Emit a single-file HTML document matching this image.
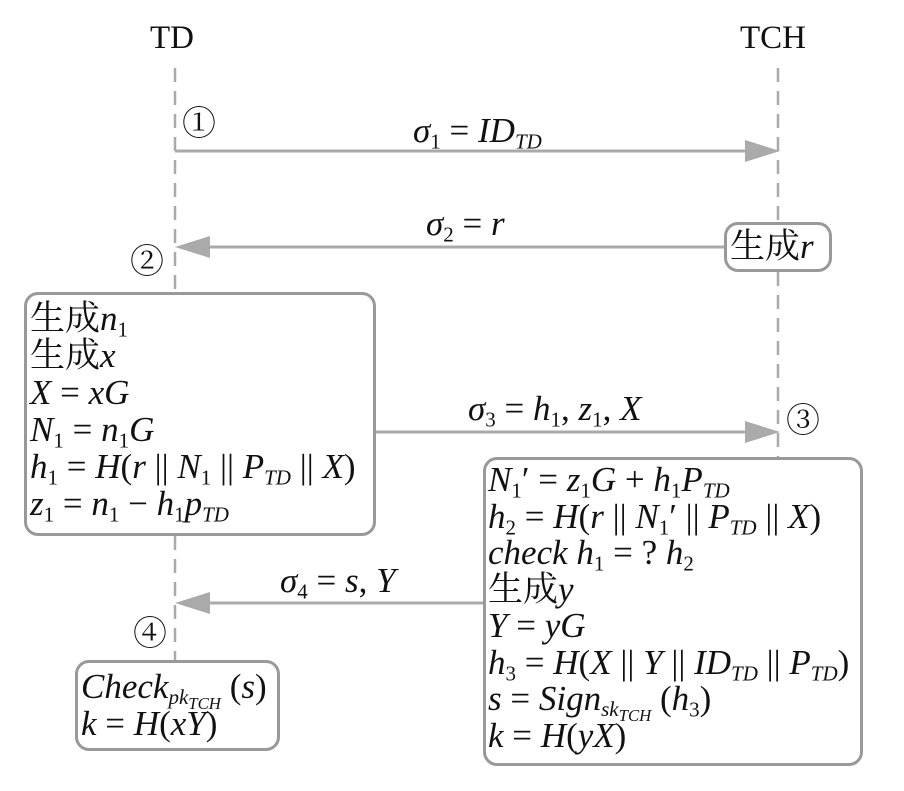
<!DOCTYPE html>
<html><head><meta charset="utf-8"><style>
body{margin:0;background:#fff;}
#c{position:relative;width:904px;height:791px;overflow:hidden;font-family:"Liberation Serif","Noto Serif CJK SC",serif;color:#111;}
.t{position:absolute;white-space:nowrap;font-size:35px;line-height:37px;}
i{font-style:italic;}
sub{font-size:60%;vertical-align:-0.3em;line-height:0;}
sub sub{font-size:80%;}
.box{position:absolute;border:3px solid #999;border-radius:14px;box-sizing:border-box;background:#fff;}
.n{font-size:34px;}
</style></head><body><div id="c">
<svg width="904" height="791" style="position:absolute;left:0;top:0">
<g stroke="#aaa" stroke-width="2.5" stroke-dasharray="14,9" fill="none">
<line x1="175" y1="68" x2="175" y2="292"/>
<line x1="175" y1="536" x2="175" y2="660"/>
<line x1="778" y1="68" x2="778" y2="222"/>
<line x1="778" y1="272" x2="778" y2="458"/>
</g>
<g stroke="#aaa" stroke-width="3">
<line x1="175" y1="151" x2="750" y2="151"/>
<line x1="205" y1="247" x2="724" y2="247"/>
<line x1="375" y1="432" x2="750" y2="432"/>
<line x1="205" y1="603" x2="483" y2="603"/>
</g>
<g fill="#aaa">
<polygon points="780,151 745,140 745,162"/>
<polygon points="175,247 210,236 210,258"/>
<polygon points="780,432 745,421 745,443"/>
<polygon points="175,603 210,592 210,614"/>
</g>
</svg>
<div class="t" style="left:150px;top:20px;font-size:33px">TD</div>
<div class="t" style="left:740px;top:20px;font-size:33px">TCH</div>
<div class="t n" style="left:182px;top:106px">①</div>
<div class="t n" style="left:130px;top:244px">②</div>
<div class="t n" style="left:786px;top:403px">③</div>
<div class="t n" style="left:133px;top:616px">④</div>
<div class="t" style="left:413px;top:112px"><i>σ</i><sub>1</sub> = <i>ID<sub>TD</sub></i></div>
<div class="t" style="left:426px;top:205px"><i>σ</i><sub>2</sub> = <i>r</i></div>
<div class="t" style="left:468px;top:390px"><i>σ</i><sub>3</sub> = <i>h</i><sub>1</sub>, <i>z</i><sub>1</sub>, <i>X</i></div>
<div class="t" style="left:280px;top:562px"><i>σ</i><sub>4</sub> = <i>s</i>, <i>Y</i></div>
<div class="box" style="left:724px;top:222px;width:108px;height:50px"></div>
<div class="t" style="left:730px;top:228px">生成<i>r</i></div>
<div class="box" style="left:24px;top:292px;width:352px;height:244px"></div>
<div class="t" style="left:30px;top:300px">生成<i>n</i><sub>1</sub><br>生成<i>x</i><br><i>X</i> = <i>xG</i><br><i>N</i><sub>1</sub> = <i>n</i><sub>1</sub><i>G</i><br><i>h</i><sub>1</sub> = <i>H</i>(<i>r</i> || <i>N</i><sub>1</sub> || <i>P<sub>TD</sub></i> || <i>X</i>)<br><i>z</i><sub>1</sub> = <i>n</i><sub>1</sub> − <i>h</i><sub>1</sub><i>p<sub>TD</sub></i></div>
<div class="box" style="left:483px;top:457px;width:380px;height:309px"></div>
<div class="t" style="left:488px;top:462px;line-height:36.5px"><i>N</i><sub>1</sub>′ = <i>z</i><sub>1</sub><i>G</i> + <i>h</i><sub>1</sub><i>P<sub>TD</sub></i><br><i>h</i><sub>2</sub> = <i>H</i>(<i>r</i> || <i>N</i><sub>1</sub>′ || <i>P<sub>TD</sub></i> || <i>X</i>)<br><i>check h</i><sub>1</sub> = ? <i>h</i><sub>2</sub><br>生成<i>y</i><br><i>Y</i> = <i>yG</i><br><i>h</i><sub>3</sub> = <i>H</i>(<i>X</i> || <i>Y</i> || <i>ID<sub>TD</sub></i> || <i>P<sub>TD</sub></i>)<br><i>s</i> = <i>Sign<sub>sk<sub>TCH</sub></sub></i> (<i>h</i><sub>3</sub>)<br><i>k</i> = <i>H</i>(<i>yX</i>)</div>
<div class="box" style="left:75px;top:660px;width:205px;height:91px"></div>
<div class="t" style="left:81px;top:668px"><i>Check<sub>pk<sub>TCH</sub></sub></i> (<i>s</i>)<br><i>k</i> = <i>H</i>(<i>xY</i>)</div>
</div></body></html>
